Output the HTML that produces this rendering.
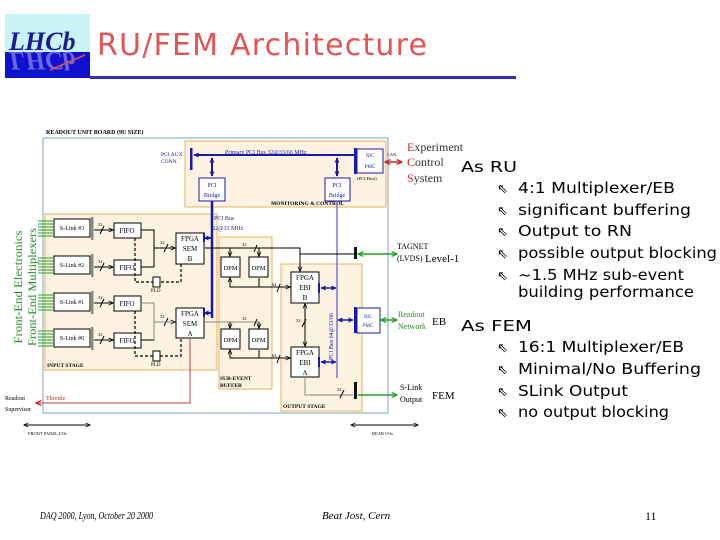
<!DOCTYPE html>
<html><head><meta charset="utf-8"><style>
html,body{margin:0;padding:0;background:#fff;}
svg{display:block;}
</style></head><body>
<svg width="720" height="540" viewBox="0 0 720 540" xmlns="http://www.w3.org/2000/svg" font-family="Liberation Serif, serif">
<defs>
<marker id="ab" viewBox="0 0 10 10" refX="9" refY="5" markerUnits="userSpaceOnUse" markerWidth="5" markerHeight="5" orient="auto-start-reverse"><path d="M0,0 L10,5 L0,10 z" fill="#1a1aa8"/></marker>
<marker id="ak" viewBox="0 0 10 10" refX="9" refY="5" markerUnits="userSpaceOnUse" markerWidth="5" markerHeight="5" orient="auto-start-reverse"><path d="M0,1 L10,5 L0,9" fill="none" stroke="#000" stroke-width="1.5"/></marker>
<marker id="ag" viewBox="0 0 10 10" refX="9" refY="5" markerUnits="userSpaceOnUse" markerWidth="6" markerHeight="6" orient="auto-start-reverse"><path d="M0,1 L10,5 L0,9" fill="none" stroke="#22a022" stroke-width="2"/></marker>
<marker id="ar" viewBox="0 0 10 10" refX="9" refY="5" markerUnits="userSpaceOnUse" markerWidth="6" markerHeight="6" orient="auto-start-reverse"><path d="M0,1 L10,5 L0,9" fill="none" stroke="#d02020" stroke-width="2"/></marker>
</defs>

<!-- logo -->
<rect x="5" y="14" width="85" height="38" fill="#c8f4f8"/>
<rect x="5" y="52" width="85" height="26" fill="#1010d0"/>
<text x="9" y="50" font-size="26" font-style="italic" font-weight="bold" fill="#1a1a9a" font-family="Liberation Serif, serif">LHCb</text>
<text x="9" y="56" font-size="26" font-style="italic" font-weight="bold" fill="#8080e0" transform="translate(0,108) scale(1,-1)" opacity="0.8">LHCb</text>
<line x1="50" y1="70" x2="85" y2="55" stroke="#e05050" stroke-width="1.5"/>
<!-- title -->
<text x="97" y="55" font-size="30" fill="#e25555" font-family="DejaVu Sans, sans-serif" textLength="330">RU/FEM Architecture</text>
<rect x="90" y="76" width="426" height="3" fill="#3030b0"/>

<!-- board -->
<text x="46" y="134" font-size="6" font-weight="bold">READOUT UNIT BOARD (9U SIZE)</text>
<rect x="43" y="138" width="345" height="275" fill="#fff" stroke="#7f9fc8" stroke-width="1"/>
<rect x="185" y="141" width="201" height="66" fill="#fdf3e0" stroke="#e8b060"/>
<rect x="45" y="214" width="172" height="156" fill="#fdf3e0" stroke="#e8b060"/>
<rect x="219" y="237" width="53" height="152" fill="#fdf3e0" stroke="#e8b060"/>
<rect x="281" y="264" width="81" height="147" fill="#fdf3e0" stroke="#e8b060"/>
<g font-size="5.5" font-weight="bold">
<text x="271" y="205">MONITORING &amp; CONTROL</text>
<text x="47" y="367">INPUT STAGE</text>
<text x="220" y="380">SUB-EVENT</text><text x="220" y="387">BUFFER</text>
<text x="283" y="408">OUTPUT STAGE</text>
</g>

<!-- monitoring -->
<text x="161" y="156" font-size="5.5" fill="#1a1aa8">PCI AUX</text>
<text x="161" y="163" font-size="5.5" fill="#1a1aa8">CONN.</text>
<rect x="190" y="148" width="2.5" height="22" fill="#1a1aa8"/>
<line x1="354" y1="155" x2="194" y2="155" stroke="#1a1aa8" stroke-width="2" marker-end="url(#ab)"/>
<text x="225" y="154" font-size="6" fill="#1a1aa8">Primary PCI Bus 32@33/66 MHz</text>
<line x1="212" y1="158" x2="212" y2="176" stroke="#1a1aa8" stroke-width="2" marker-start="url(#ab)" marker-end="url(#ab)"/>
<line x1="337" y1="158" x2="337" y2="176" stroke="#1a1aa8" stroke-width="2" marker-start="url(#ab)" marker-end="url(#ab)"/>
<rect x="199" y="178" width="26" height="23" fill="#fff" stroke="#1a1aa8"/>
<rect x="325" y="178" width="25" height="23" fill="#fff" stroke="#1a1aa8"/>
<g font-size="6" fill="#1a1aa8" text-anchor="middle">
<text x="212" y="187">PCI</text><text x="212" y="197">Bridge</text>
<text x="337" y="187">PCI</text><text x="337" y="197">Bridge</text>
</g>
<rect x="354" y="148" width="2.5" height="26" fill="#1a1aa8"/>
<rect x="357" y="149" width="26" height="24" fill="#fff" stroke="#1a1aa8"/>
<text x="370" y="157" font-size="5" fill="#1a1aa8" text-anchor="middle">NIC</text>
<text x="370" y="168" font-size="5" fill="#1a1aa8" text-anchor="middle">PMC</text>
<text x="357" y="180" font-size="4.5">(PCI Host)</text>
<text x="387" y="156" font-size="4.5">LAN</text>
<line x1="385" y1="162" x2="402" y2="162" stroke="#d02020" stroke-width="1.5" marker-start="url(#ar)" marker-end="url(#ar)"/>
<g font-size="12" fill="#333">
<text x="407" y="151"><tspan fill="#d02020">E</tspan>xperiment</text>
<text x="407" y="166"><tspan fill="#d02020">C</tspan>ontrol</text>
<text x="407" y="182"><tspan fill="#d02020">S</tspan>ystem</text>
</g>

<!-- PCI bus vertical -->
<line x1="212" y1="201" x2="212" y2="318" stroke="#1a1aa8" stroke-width="2.5"/>
<text x="214" y="220" font-size="6" fill="#1a1aa8">PCI Bus</text>
<text x="212" y="230" font-size="6" fill="#1a1aa8">32@33 MHz</text>
<line x1="204" y1="238" x2="211" y2="238" stroke="#1a1aa8" stroke-width="2" marker-start="url(#ab)"/>
<line x1="204" y1="313" x2="211" y2="313" stroke="#1a1aa8" stroke-width="2" marker-start="url(#ab)"/>
<line x1="337" y1="201" x2="337" y2="378" stroke="#5a5ad0" stroke-width="1.2"/>
<text x="333" y="360" font-size="6" fill="#1a1aa8" transform="rotate(-90 333 360)">PCI Bus 64@33/66</text>

<!-- front-end labels -->
<text x="22" y="287" font-size="12" fill="#2a8a2a" text-anchor="middle" textLength="113" lengthAdjust="spacingAndGlyphs" transform="rotate(-90 22 287)">Front-End Electronics</text>
<text x="36" y="287" font-size="12" fill="#2a8a2a" text-anchor="middle" textLength="118" lengthAdjust="spacingAndGlyphs" transform="rotate(-90 36 287)">Front-End Multiplexers</text>

<!-- S-links -->
<g stroke="#22a022" stroke-width="1">
<path d="M38,221h15M38,224h15M38,227h15M38,230h15M38,233h15M38,236h15"/>
<path d="M38,258h15M38,261h15M38,264h15M38,267h15M38,270h15M38,273h15"/>
<path d="M38,295h15M38,298h15M38,301h15M38,304h15M38,307h15M38,310h15"/>
<path d="M38,331h15M38,334h15M38,337h15M38,340h15M38,343h15M38,346h15"/>
</g>
<g fill="#fff" stroke="#000">
<rect x="54" y="219" width="36" height="18"/>
<rect x="54" y="256" width="36" height="18"/>
<rect x="54" y="293" width="36" height="18"/>
<rect x="54" y="329" width="36" height="18"/>
</g>
<g fill="#888">
<rect x="91" y="217" width="2.5" height="23"/>
<rect x="91" y="254" width="2.5" height="23"/>
<rect x="91" y="291" width="2.5" height="23"/>
<rect x="91" y="327" width="2.5" height="23"/>
</g>
<g font-size="6" text-anchor="middle">
<text x="72" y="230">S-Link #3</text><text x="72" y="267">S-Link #2</text>
<text x="72" y="304">S-Link #1</text><text x="72" y="340">S-Link #0</text>
</g>
<g stroke="#000" fill="none">
<line x1="94" y1="230" x2="113" y2="230" marker-end="url(#ak)"/>
<line x1="94" y1="267" x2="113" y2="267" marker-end="url(#ak)"/>
<line x1="94" y1="303" x2="113" y2="303" marker-end="url(#ak)"/>
<line x1="94" y1="340" x2="113" y2="340" marker-end="url(#ak)"/>
<path d="M100,234l4,-8M100,271l4,-8M100,307l4,-8M100,344l4,-8"/>
</g>
<g font-size="4.5"><text x="98" y="226">32</text><text x="98" y="263">32</text><text x="98" y="299">32</text><text x="98" y="336">32</text></g>
<g fill="#fff" stroke="#000">
<rect x="114" y="223" width="27" height="15"/><rect x="114" y="260" width="27" height="15"/>
<rect x="114" y="296" width="27" height="15"/><rect x="114" y="333" width="27" height="15"/>
</g>
<g font-size="7" text-anchor="middle">
<text x="127" y="233">FIFO</text><text x="127" y="270">FIFO</text><text x="127" y="306">FIFO</text><text x="127" y="343">FIFO</text>
</g>
<g stroke="#000" fill="none">
<path d="M141,230h13v37h-13M154,248h21"/>
<path d="M141,303h13v37h-13M154,322h21" stroke="#888"/>
<path d="M141,340h13" />
<path d="M164,252l4,-8M164,326l4,-8"/>
</g>
<line x1="154" y1="248" x2="175" y2="248" stroke="#000" marker-end="url(#ak)"/>
<line x1="154" y1="322" x2="175" y2="322" stroke="#888" marker-end="url(#ak)"/>
<g font-size="4.5"><text x="160" y="244">32</text><text x="160" y="318">32</text></g>
<g stroke="#000" stroke-dasharray="3,2" fill="none" stroke-width="1.2">
<path d="M135,238v44h46v-18"/><path d="M135,311v45h46v-18"/>
</g>
<rect x="153" y="277" width="7" height="10" fill="#fff" stroke="#000"/>
<rect x="153" y="351" width="7" height="10" fill="#fff" stroke="#000"/>
<text x="151" y="292" font-size="5">PLD</text><text x="151" y="366" font-size="5">PLD</text>
<rect x="176" y="233" width="28" height="31" fill="#fff" stroke="#000"/>
<rect x="176" y="308" width="28" height="30" fill="#fff" stroke="#000"/>
<g font-size="7" text-anchor="middle">
<text x="190" y="241">FPGA</text><text x="190" y="251">SEM</text><text x="190" y="261">B</text>
<text x="190" y="316">FPGA</text><text x="190" y="326">SEM</text><text x="190" y="336">A</text>
</g>
<rect x="203" y="233" width="2" height="9" fill="#1a1aa8"/><rect x="203" y="308" width="2" height="9" fill="#1a1aa8"/>

<!-- throttle -->
<path d="M190,338v65H36" stroke="#c04040" fill="none" marker-end="url(#ar)"/>
<text x="46" y="400" font-size="6" fill="#c02020">Throttle</text>
<text x="5" y="400" font-size="6">Readout</text><text x="5" y="411" font-size="6">Supervisor</text>

<!-- DPM -->
<g stroke="#000" fill="none">
<path d="M205,248h95v22"/>
<path d="M230,248v8M259,248v8"/>
<path d="M205,322h54v7M230,322v7" stroke="#888"/>
<path d="M230,278v9h60M259,278v9"/>
<path d="M230,350v8h60M259,350v8"/>
<path d="M254,252l3,-7M254,326l3,-7M277,292l3,-8M277,363l3,-8"/>
</g>
<line x1="230" y1="248" x2="230" y2="256" stroke="#000" marker-end="url(#ak)"/>
<line x1="259" y1="248" x2="259" y2="256" stroke="#000" marker-end="url(#ak)"/>
<line x1="230" y1="322" x2="230" y2="328" stroke="#000" marker-end="url(#ak)"/>
<line x1="259" y1="322" x2="259" y2="328" stroke="#000" marker-end="url(#ak)"/>
<line x1="300" y1="250" x2="300" y2="271" stroke="#000" marker-end="url(#ak)"/>
<line x1="280" y1="287" x2="290" y2="287" stroke="#000" marker-end="url(#ak)"/>
<line x1="280" y1="358" x2="290" y2="358" stroke="#000" marker-end="url(#ak)"/>
<line x1="230" y1="287" x2="230" y2="278" stroke="#000" marker-end="url(#ak)"/>
<line x1="230" y1="358" x2="230" y2="350" stroke="#000" marker-end="url(#ak)"/>
<g font-size="4.5"><text x="242" y="246">32</text><text x="242" y="320">32</text><text x="272" y="286">64</text><text x="272" y="357">64</text></g>
<g fill="#fff" stroke="#000">
<rect x="221" y="257" width="19" height="20"/><rect x="249" y="257" width="19" height="20"/>
<rect x="221" y="329" width="19" height="20"/><rect x="249" y="329" width="19" height="20"/>
</g>
<g font-size="6.5" text-anchor="middle">
<text x="230.5" y="270">DPM</text><text x="258.5" y="270">DPM</text>
<text x="230.5" y="342">DPM</text><text x="258.5" y="342">DPM</text>
</g>

<!-- output stage -->
<rect x="291" y="272" width="28" height="31" fill="#fff" stroke="#000"/>
<rect x="291" y="347" width="28" height="30" fill="#fff" stroke="#000"/>
<g font-size="7" text-anchor="middle">
<text x="305" y="280">FPGA</text><text x="305" y="290">EBI</text><text x="305" y="300">B</text>
<text x="305" y="355">FPGA</text><text x="305" y="365">EBI</text><text x="305" y="375">A</text>
</g>
<rect x="318" y="283" width="2" height="10" fill="#1a1aa8"/><rect x="318" y="357" width="2" height="10" fill="#1a1aa8"/>
<line x1="321" y1="288" x2="336" y2="288" stroke="#1a1aa8" stroke-width="1.5" marker-start="url(#ab)" marker-end="url(#ab)"/>
<line x1="321" y1="362" x2="336" y2="362" stroke="#1a1aa8" stroke-width="1.5" marker-start="url(#ab)" marker-end="url(#ab)"/>
<line x1="305" y1="304" x2="305" y2="346" stroke="#000" marker-start="url(#ak)" marker-end="url(#ak)"/>
<path d="M302,327l4,-8" stroke="#000"/><text x="296" y="322" font-size="4.5">32</text>
<path d="M300,267v-13h54" stroke="#000" fill="none"/>
<rect x="354" y="247" width="3" height="12" fill="#111"/>
<line x1="358" y1="254" x2="397" y2="254" stroke="#22a022" stroke-width="1.5" marker-start="url(#ag)" marker-end="url(#ag)"/>
<line x1="338" y1="320" x2="353" y2="320" stroke="#1a1aa8" stroke-width="1.5" marker-start="url(#ab)" marker-end="url(#ab)"/>
<rect x="354" y="307" width="2.5" height="26" fill="#1a1aa8"/>
<rect x="357" y="308" width="23" height="25" fill="#fff" stroke="#1a1aa8"/>
<text x="368" y="318" font-size="5" fill="#1a1aa8" text-anchor="middle">NIC</text>
<text x="368" y="327" font-size="5" fill="#1a1aa8" text-anchor="middle">PMC</text>
<line x1="381" y1="320" x2="397" y2="320" stroke="#22a022" stroke-width="1.5" marker-start="url(#ag)" marker-end="url(#ag)"/>
<path d="M305,377v18h48" stroke="#888" fill="none"/>
<path d="M340,398l4,-8" stroke="#000"/><text x="337" y="391" font-size="4.5">32</text>
<rect x="354" y="382" width="3" height="17" fill="#111"/>
<line x1="358" y1="395" x2="397" y2="395" stroke="#22a022" stroke-width="1.5" marker-end="url(#ag)"/>

<g font-size="8">
<text x="397" y="249">TAGNET</text><text x="397" y="261">(LVDS)</text>
<text x="398" y="317" fill="#2a8a2a">Readout</text><text x="398" y="329" fill="#2a8a2a">Network</text>
<text x="400" y="390">S-Link</text><text x="400" y="402">Output</text>
</g>
<g font-size="11">
<text x="425" y="262">Level-1</text><text x="432" y="325">EB</text><text x="432" y="399">FEM</text>
</g>

<!-- I/O arrows -->
<line x1="24" y1="425" x2="90" y2="425" stroke="#000" marker-start="url(#ak)" marker-end="url(#ak)"/>
<text x="28" y="435" font-size="4.5">FRONT PANEL I/Os</text>
<line x1="351" y1="425" x2="418" y2="425" stroke="#000" marker-start="url(#ak)" marker-end="url(#ak)"/>
<text x="372" y="435" font-size="4.5">REAR I/Os</text>

<!-- right text -->
<g font-family="DejaVu Sans, sans-serif" font-size="15" fill="#000">
<text x="461" y="172" textLength="56" lengthAdjust="spacingAndGlyphs">As RU</text>
<g font-size="13"><text x="497" y="193">⇖</text><text x="497" y="215">⇖</text><text x="497" y="236">⇖</text><text x="497" y="258">⇖</text><text x="497" y="280">⇖</text>
<text x="497" y="352">⇖</text><text x="497" y="374">⇖</text><text x="497" y="396">⇖</text><text x="497" y="417">⇖</text></g>
<text x="518" y="193" textLength="157" lengthAdjust="spacingAndGlyphs">4:1 Multiplexer/EB</text>
<text x="518" y="215" textLength="173" lengthAdjust="spacingAndGlyphs">significant buffering</text>
<text x="518" y="236" textLength="114" lengthAdjust="spacingAndGlyphs">Output to RN</text>
<text x="518" y="258" textLength="199" lengthAdjust="spacingAndGlyphs">possible output blocking</text>
<text x="518" y="280" textLength="166" lengthAdjust="spacingAndGlyphs">~1.5 MHz sub-event</text>
<text x="518" y="297" textLength="176" lengthAdjust="spacingAndGlyphs">building performance</text>
<text x="461" y="331" textLength="71" lengthAdjust="spacingAndGlyphs">As FEM</text>
<text x="518" y="352" textLength="166" lengthAdjust="spacingAndGlyphs">16:1 Multiplexer/EB</text>
<text x="518" y="374" textLength="183" lengthAdjust="spacingAndGlyphs">Minimal/No Buffering</text>
<text x="518" y="396" textLength="110" lengthAdjust="spacingAndGlyphs">SLink Output</text>
<text x="518" y="417" textLength="151" lengthAdjust="spacingAndGlyphs">no output blocking</text>
</g>

<!-- footer -->
<g font-family="Liberation Serif, serif" font-style="italic" font-size="11">
<text x="40" y="519" textLength="113" lengthAdjust="spacingAndGlyphs">DAQ 2000, Lyon, October 20 2000</text>
<text x="322" y="519">Beat Jost, Cern</text>
</g>
<text x="645" y="520" font-size="12" font-family="Liberation Serif, serif">11</text>
</svg>
</body></html>
